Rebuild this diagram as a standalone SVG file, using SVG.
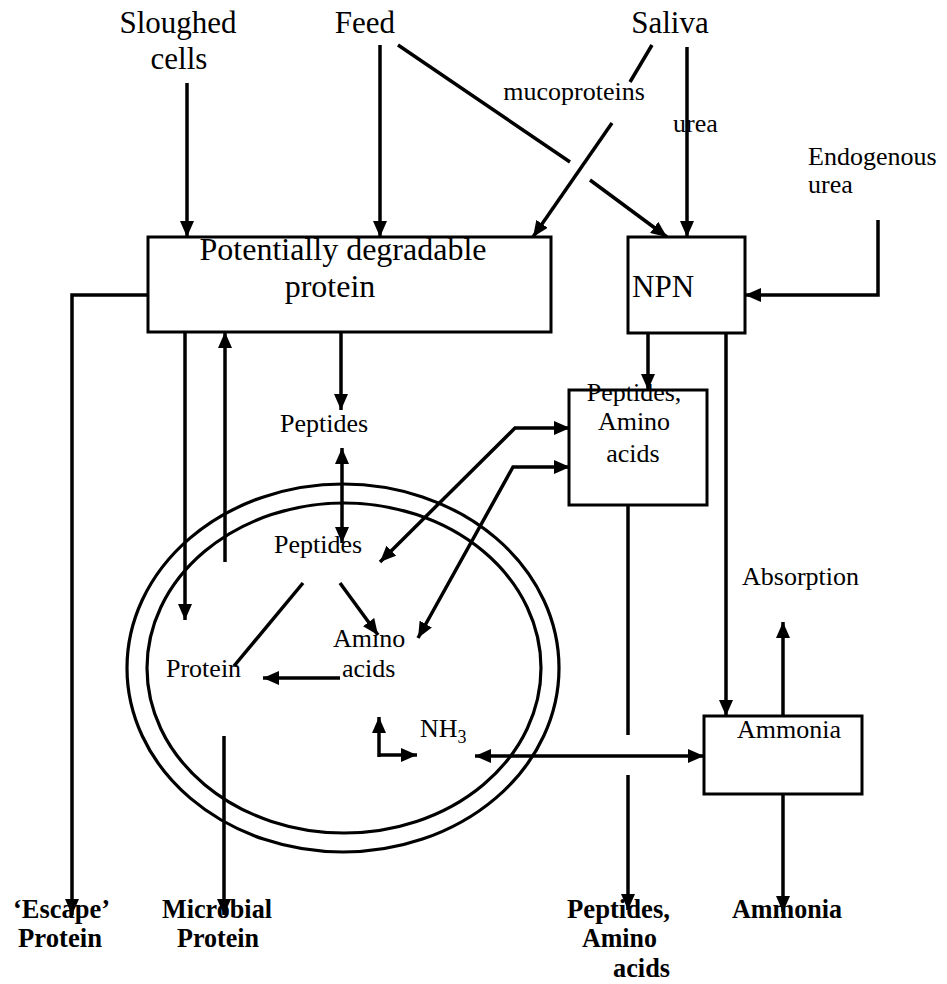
<svg xmlns="http://www.w3.org/2000/svg" width="947" height="984" viewBox="0 0 947 984">
<style>
.t{font-family:"Liberation Serif","Times New Roman",serif;fill:#000}
.L{font-size:31px}
.M{font-size:26px}
.B{font-size:28px;font-weight:bold}
.c{text-anchor:middle}
.box{fill:#fff;stroke:#000;stroke-width:3}
.ln{fill:none;stroke:#000;stroke-width:3.5}
.a{marker-end:url(#ah)}
.d{marker-start:url(#ah);marker-end:url(#ah)}
.cell{fill:none;stroke:#000;stroke-width:3.2}
</style>
<defs>
<marker id="ah" markerUnits="userSpaceOnUse" markerWidth="17" markerHeight="14" refX="16" refY="7" orient="auto-start-reverse" viewBox="0 0 17 14">
<path d="M0,0 L16,7 L0,14 z" fill="#000"/>
</marker>
</defs>
<rect width="947" height="984" fill="#fff"/>

<g id="cell">
<ellipse class="cell" cx="343" cy="668" rx="216" ry="184"/>
<ellipse class="cell" cx="344" cy="668" rx="197" ry="165"/>
</g>

<g id="connectors">
<line id="e-slough" class="ln a" x1="187" y1="83" x2="187" y2="237"/>
<line id="e-feed" class="ln a" x1="380" y1="45" x2="380" y2="237"/>
<line id="e-feed-npn1" class="ln" x1="398" y1="45" x2="570" y2="162"/>
<line id="e-feed-npn2" class="ln a" x1="590" y1="180" x2="667" y2="237"/>
<line id="e-saliva-muco1" class="ln" x1="652" y1="45" x2="630" y2="82"/>
<line id="e-saliva-muco2" class="ln a" x1="612" y1="123" x2="533" y2="237"/>
<line id="e-saliva-urea" class="ln a" x1="687" y1="47" x2="687" y2="237"/>
<polyline id="e-endo" class="ln a" points="878,220 878,295 745,295"/>
<polyline id="e-escape" class="ln a" points="148,295 72,295 72,915"/>
<line id="e-pdp-protein" class="ln a" x1="185" y1="332" x2="185" y2="620"/>
<line id="e-protein-pdp" class="ln a" x1="225" y1="562" x2="225" y2="332"/>
<line id="e-pdp-pep" class="ln a" x1="341" y1="332" x2="341" y2="410"/>
<line id="e-pep-pep" class="ln d" x1="342" y1="448" x2="342" y2="543"/>
<polyline id="e-box-pep" class="ln d" points="570,428 515,428 380,562"/>
<polyline id="e-box-aa" class="ln d" points="570,467 513,467 418,638"/>
<line id="e-npn-box" class="ln a" x1="648" y1="333" x2="648" y2="390"/>
<line id="e-npn-amm" class="ln a" x1="726" y1="333" x2="726" y2="716"/>
<line id="e-pep-protein" class="ln" x1="303" y1="583" x2="234" y2="666"/>
<line id="e-pep-aa" class="ln a" x1="340" y1="583" x2="378" y2="635"/>
<line id="e-aa-protein" class="ln a" x1="340" y1="678" x2="263" y2="678"/>
<line id="e-nh3-up" class="ln a" x1="379" y1="757" x2="379" y2="717"/>
<polyline id="e-nh3-right" class="ln a" points="379,755 417,755"/>
<line id="e-nh3-amm" class="ln d" x1="475" y1="756" x2="704" y2="756"/>
<line id="e-microbial" class="ln a" x1="224" y1="736" x2="224" y2="915"/>
<line id="e-box-out1" class="ln" x1="628" y1="505" x2="628" y2="735"/>
<line id="e-box-out2" class="ln a" x1="628" y1="775" x2="628" y2="910"/>
<line id="e-absorption" class="ln a" x1="783" y1="716" x2="783" y2="622"/>
<line id="e-amm-out" class="ln a" x1="783" y1="794" x2="783" y2="912"/>
</g>

<g id="n-sloughed">
<text class="t L c" x="178" y="33">Sloughed</text>
<text class="t L c" x="179" y="69">cells</text>
</g>
<g id="n-feed"><text class="t L c" x="365" y="33">Feed</text></g>
<g id="n-saliva"><text class="t L c" x="670" y="33">Saliva</text></g>
<g id="l-muco"><text class="t M c" x="574" y="100">mucoproteins</text></g>
<g id="l-urea"><text class="t M" x="673" y="132">urea</text></g>
<g id="n-endo">
<text class="t M" x="808" y="165">Endogenous</text>
<text class="t M" x="808" y="193">urea</text>
</g>
<g id="n-pdp">
<rect class="box" x="148" y="237" width="403" height="95"/>
<text class="t c" style="font-size:32px" x="343" y="260">Potentially degradable</text>
<text class="t c" style="font-size:32px" x="330" y="297">protein</text>
</g>
<g id="n-npn">
<rect class="box" x="628" y="237" width="117" height="96"/>
<text class="t L" x="632" y="297">NPN</text>
</g>
<g id="n-peptides-ext"><text class="t M c" x="324" y="432">Peptides</text></g>
<g id="n-pepaa-box">
<rect class="box" x="569" y="390" width="138" height="115"/>
<text class="t M c" x="634" y="401">Peptides,</text>
<text class="t M c" x="634" y="430">Amino</text>
<text class="t M c" x="633" y="462">acids</text>
</g>
<g id="n-peptides-int"><text class="t M c" x="318" y="553">Peptides</text></g>
<g id="n-aa-int">
<text class="t M" x="333" y="647">Amino</text>
<text class="t M" x="342" y="677">acids</text>
</g>
<g id="n-protein-int"><text class="t M" x="166" y="677">Protein</text></g>
<g id="n-nh3"><text class="t M" x="420" y="737">NH<tspan style="font-size:18px" dy="6">3</tspan></text></g>
<g id="n-absorption"><text class="t M" x="742" y="585">Absorption</text></g>
<g id="n-ammonia-box">
<rect class="box" x="704" y="716" width="158" height="78"/>
<text class="t M" x="737" y="738">Ammonia</text>
</g>
<g id="n-escape">
<text class="t B" x="13" y="918" textLength="97" lengthAdjust="spacingAndGlyphs">‘Escape’</text>
<text class="t B" x="18" y="947" textLength="84" lengthAdjust="spacingAndGlyphs">Protein</text>
</g>
<g id="n-microbial">
<text class="t B" x="162" y="918" textLength="110" lengthAdjust="spacingAndGlyphs">Microbial</text>
<text class="t B" x="177" y="947" textLength="82" lengthAdjust="spacingAndGlyphs">Protein</text>
</g>
<g id="n-pepaa-out">
<text class="t B" x="567" y="918" textLength="103" lengthAdjust="spacingAndGlyphs">Peptides,</text>
<text class="t B" x="582" y="947" textLength="75" lengthAdjust="spacingAndGlyphs">Amino</text>
<text class="t B" x="613" y="977" textLength="57" lengthAdjust="spacingAndGlyphs">acids</text>
</g>
<g id="n-ammonia-out">
<text class="t B" x="732" y="918" textLength="110" lengthAdjust="spacingAndGlyphs">Ammonia</text>
</g>
</svg>
